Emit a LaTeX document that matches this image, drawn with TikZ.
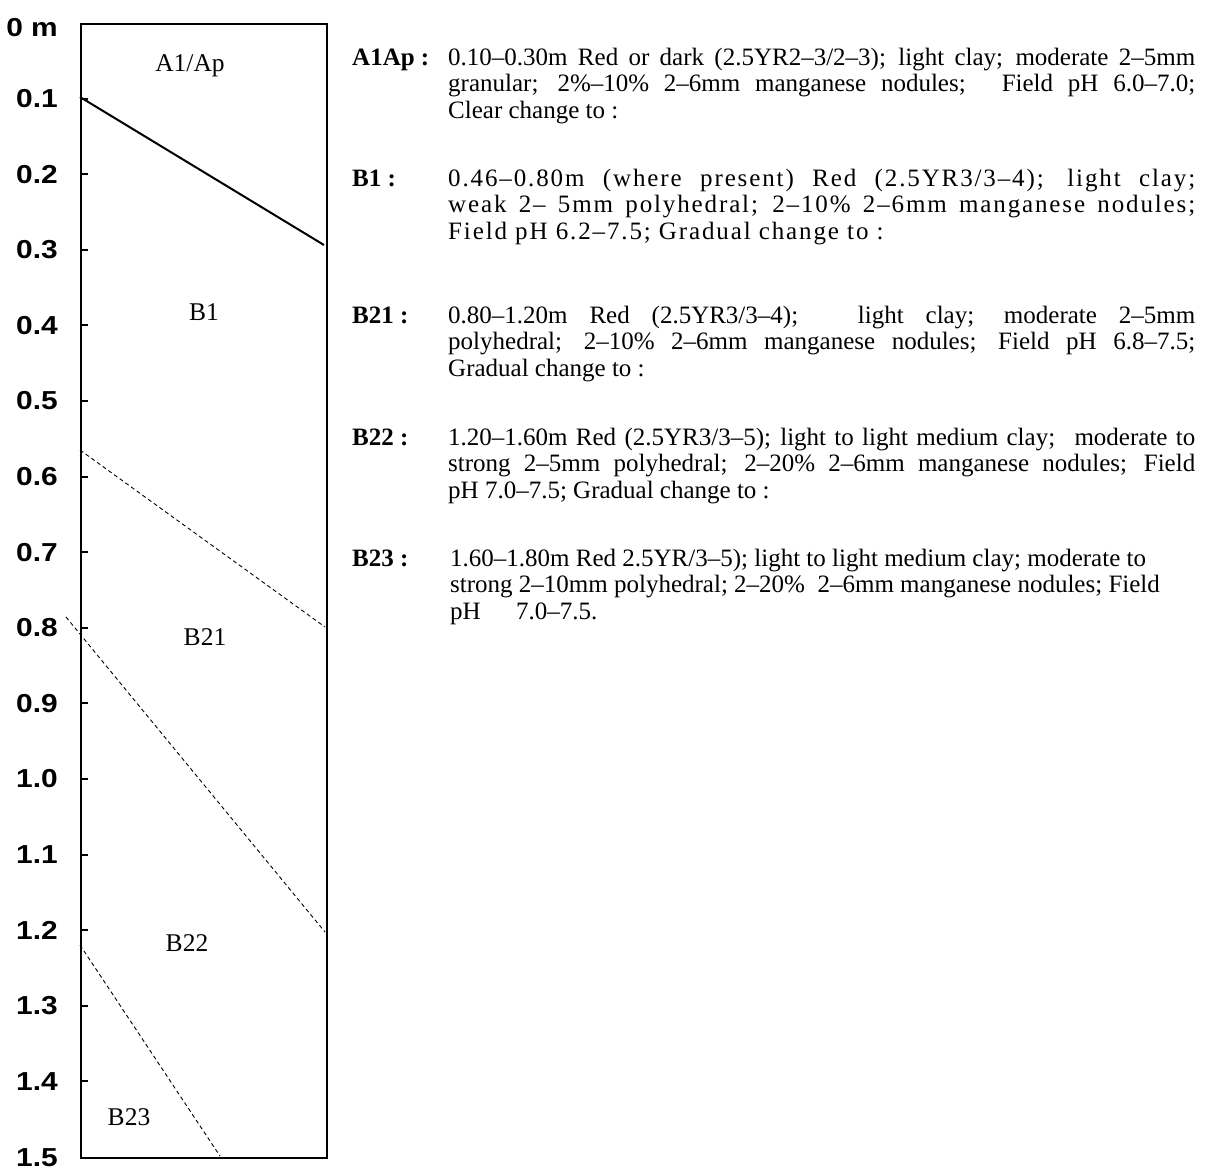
\documentclass[tikz,border=0pt]{standalone}
\usepackage{fontspec}
\setmainfont{Liberation Serif}
\newfontfamily\depthfont[FakeStretch=1.15]{Liberation Sans}
\tikzset{
  depthlab/.style={anchor=east, inner sep=0pt, font=\depthfont\bfseries\fontsize{26}{26}\selectfont},
  hzlab/.style={inner sep=0pt, font=\fontsize{25.5}{27}\selectfont},
  desc/.style={anchor=base west, inner sep=0pt, font=\fontsize{25}{27}\selectfont},
  desclab/.style={anchor=base west, inner sep=0pt, font=\fontsize{25}{27}\selectfont\bfseries},
  tickline/.style={line width=2pt},
  profilebox/.style={draw, line width=2pt},
  clearbound/.style={line width=2pt},
  gradbound/.style={line width=0.9pt, dash pattern=on 4pt off 3pt},
}
\newcommand{\jline}[1]{\makebox[747pt][s]{#1}}
\begin{document}
\begin{tikzpicture}[x=1pt,y=-1pt]
\useasboundingbox (0,0) rectangle (1209,1170);
% profile column
\node[profilebox, minimum width=246pt, minimum height=1134pt, anchor=north west, inner sep=0pt] (col) at (80,23) {};
% ticks and depth labels
\node[depthlab] (d0) at (58,28) {0 m};
\foreach \i/\t in {1/0.1,2/0.2,3/0.3,4/0.4,5/0.5,6/0.6,7/0.7,8/0.8,9/0.9,10/1.0,11/1.1,12/1.2,13/1.3,14/1.4}{
  \coordinate (t\i) at (80,{23+75.6*\i});
  \draw[tickline] (t\i) -- ++(8,0);
  \node[depthlab] (d\i) at (58,{23+75.6*\i}) {\t};
}
\node[depthlab] (d15) at (58,1158) {1.5};
% horizon boundaries
\coordinate (c1a) at (80,97);   \coordinate (c1b) at (324,245);
\coordinate (g1a) at (80,450);  \coordinate (g1b) at (325,627);
\coordinate (g2a) at (66,617);  \coordinate (g2b) at (325,932);
\coordinate (g3a) at (80,945);  \coordinate (g3b) at (220,1156);
\draw[clearbound] (c1a) -- (c1b);
\draw[gradbound] (g1a) -- (g1b);
\draw[gradbound] (g2a) -- (g2b);
\draw[gradbound] (g3a) -- (g3b);
% horizon names
\node[hzlab] (hA) at (190,66) {A1/Ap};
\node[hzlab] (hB1) at (204,312) {B1};
\node[hzlab] (hB21) at (205,637) {B21};
\node[hzlab] (hB22) at (187,943) {B22};
\node[hzlab] (hB23) at (129,1117) {B23};
% descriptions
\node[desclab] (lA) at (352,65) {A1Ap :};
\node[desc] (a1) at (448,65) {\jline{0.10–0.30m Red or dark (2.5YR2–3/2–3); light clay; moderate 2–5mm}};
\node[desc] (a2) at (448,91.5) {\jline{granular; 2\%–10\% 2–6mm manganese nodules;\hspace{17pt} Field pH 6.0–7.0;}};
\node[desc] (a3) at (448,118) {Clear change to :};

\node[desclab] (lB1) at (352,186) {B1 :};
\node[desc] (b1) at (448,186) {\addfontfeature{LetterSpace=7.5}\jline{0.46–0.80m (where present) Red (2.5YR3/3–4); light clay;}};
\node[desc] (b2) at (448,212.5) {\addfontfeature{LetterSpace=7.5}\jline{weak 2– 5mm polyhedral; 2–10\% 2–6mm manganese nodules;}};
\node[desc] (b3) at (448,239) {\addfontfeature{LetterSpace=7.5}Field pH 6.2–7.5; Gradual change to :};

\node[desclab] (lB21) at (352,323) {B21 :};
\node[desc] (c1) at (448,323) {\jline{0.80–1.20m Red (2.5YR3/3–4);\hspace{30pt} light clay; moderate 2–5mm}};
\node[desc] (c2) at (448,349.5) {\jline{polyhedral; 2–10\% 2–6mm manganese nodules; Field pH 6.8–7.5;}};
\node[desc] (c3) at (448,376) {Gradual change to :};

\node[desclab] (lB22) at (352,445) {B22 :};
\node[desc] (e1) at (448,445) {\jline{1.20–1.60m Red (2.5YR3/3–5); light to light medium clay;\hspace{10pt} moderate to}};
\node[desc] (e2) at (448,471.5) {\jline{strong 2–5mm polyhedral; 2–20\% 2–6mm manganese nodules; Field}};
\node[desc] (e3) at (448,498) {pH 7.0–7.5; Gradual change to :};

\node[desclab] (lB23) at (352,566) {B23 :};
\node[desc] (f1) at (450,566) {1.60–1.80m Red 2.5YR/3–5); light to light medium clay; moderate to};
\node[desc] (f2) at (450,592.5) {strong 2–10mm polyhedral; 2–20\%\ \ 2–6mm manganese nodules; Field};
\node[desc] (f3) at (450,619) {pH\hspace{29pt} 7.0–7.5.};
\end{tikzpicture}
\end{document}
